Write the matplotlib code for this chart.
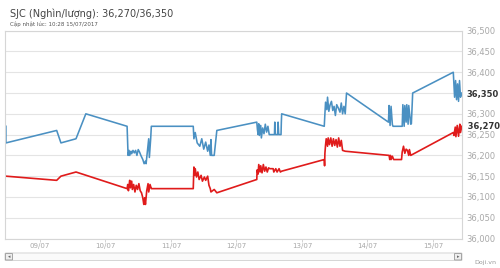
import matplotlib
matplotlib.use('Agg')
import matplotlib.pyplot as plt
import matplotlib.patches as mpatches

# x = days after 09/07 00:00
days_labels = ['09/07', '10/07', '11/07', '12/07', '13/07', '14/07', '15/07']
day_ticks = [0, 1, 2, 3, 4, 5, 6]

sell_x = [-0.52, -0.52, 0.255, 0.32, 0.55, 0.70, 1.33, 1.345,
          1.36, 1.37, 1.39, 1.40, 1.42, 1.44, 1.46, 1.48, 1.50, 1.52, 1.54, 1.57,
          1.59, 1.61, 1.62, 1.64, 1.66, 1.67, 1.69, 1.70,
          2.34, 2.35, 2.37, 2.40, 2.44, 2.47, 2.50, 2.53, 2.56, 2.58, 2.60, 2.61,
          2.62, 2.66, 2.70, 3.31,
          3.32, 3.33, 3.34, 3.35, 3.37, 3.38, 3.40, 3.42, 3.44, 3.46, 3.48, 3.50,
          3.58, 3.585, 3.595, 3.63, 3.635, 3.645, 3.68, 3.685, 3.69,
          4.34, 4.35, 4.36, 4.38, 4.39, 4.41, 4.43, 4.45, 4.47, 4.49, 4.51, 4.53,
          4.56, 4.58, 4.60, 4.62, 4.64, 4.66, 4.68,
          5.32, 5.33, 5.345, 5.36, 5.38, 5.39, 5.53, 5.54, 5.56, 5.57, 5.59, 5.60,
          5.62, 5.63, 5.66, 5.67, 5.69,
          6.31, 6.33, 6.345, 6.36, 6.375, 6.39, 6.405, 6.42, 6.44]
sell_y = [36270, 36230, 36260, 36230, 36240, 36300, 36270, 36200,
          36212, 36200, 36210, 36204, 36212, 36206, 36212, 36200, 36214, 36208, 36200, 36190,
          36180, 36186, 36180, 36210, 36240, 36195, 36240, 36270,
          36270, 36240, 36255, 36230, 36222, 36240, 36215, 36232, 36210, 36225, 36200, 36238,
          36200, 36200, 36260, 36280,
          36262, 36250, 36276, 36248, 36272, 36242, 36266, 36252, 36275, 36256, 36270, 36250,
          36250, 36280, 36250, 36250, 36280, 36250, 36250, 36280, 36300,
          36270, 36300, 36328, 36310, 36340, 36306, 36322, 36330, 36308, 36318, 36296, 36322,
          36312, 36304, 36326, 36300, 36318, 36300, 36350,
          36280, 36320, 36272, 36318, 36274, 36270, 36270, 36322, 36270, 36320, 36280, 36322,
          36275, 36320, 36275, 36276, 36350,
          36400, 36340, 36380, 36334, 36372, 36330, 36380, 36340, 36350]

buy_x = [-0.52, 0.255, 0.32, 0.55, 1.33,
         1.34, 1.35, 1.37, 1.38, 1.40, 1.41, 1.43, 1.45, 1.47, 1.49, 1.51, 1.53, 1.55,
         1.57, 1.585, 1.60, 1.61, 1.63, 1.65, 1.66, 1.68, 1.70, 1.71,
         2.34, 2.35, 2.36, 2.37, 2.39, 2.41, 2.43, 2.46, 2.48, 2.51, 2.53, 2.56, 2.58,
         2.60, 2.61, 2.66, 2.70,
         3.31, 3.315, 3.33, 3.34, 3.36, 3.37, 3.39, 3.41, 3.43, 3.45, 3.47, 3.49, 3.51,
         3.56, 3.57, 3.60, 3.62, 3.65, 3.67, 3.69,
         4.34, 4.345, 4.35, 4.36, 4.37, 4.39, 4.40, 4.42, 4.44, 4.46, 4.48, 4.50, 4.52,
         4.54, 4.56, 4.58, 4.60, 4.62, 4.66,
         5.33, 5.34, 5.35, 5.36, 5.38, 5.40, 5.52, 5.53, 5.55, 5.57, 5.59, 5.61, 5.63,
         5.64, 5.66,
         6.31, 6.32, 6.34, 6.35, 6.37, 6.39, 6.41, 6.42, 6.44]
buy_y = [36150, 36140, 36150, 36160, 36120,
         36130, 36115, 36140, 36122, 36138, 36118, 36130, 36112, 36128, 36118, 36132, 36115, 36110,
         36098, 36082, 36098, 36082, 36115, 36132, 36112, 36130, 36120, 36120,
         36120, 36172, 36152, 36168, 36148, 36160, 36142, 36152, 36138, 36148, 36140, 36150, 36128,
         36120, 36112, 36118, 36110,
         36142, 36165, 36155, 36178, 36160, 36175, 36158, 36178, 36162, 36172, 36160, 36170, 36168,
         36168, 36160, 36168, 36160, 36168, 36160, 36162,
         36190, 36175, 36205, 36225, 36240, 36222, 36242, 36226, 36242, 36222, 36240, 36224, 36238,
         36220, 36242, 36222, 36236, 36212, 36210,
         36200, 36190, 36200, 36190, 36198, 36190, 36190, 36208, 36222, 36205, 36215, 36212, 36200,
         36214, 36200,
         36255, 36248, 36268, 36245, 36272, 36246, 36275, 36255, 36270]

y_ticks = [36000, 36050, 36100, 36150, 36200, 36250, 36300, 36350, 36400, 36450, 36500]
sell_now = 36350
buy_now = 36270

C_BLUE = "#4a90c2"
C_RED = "#e01b1b"
C_GRID = "#e4e4e4"
C_TICK = "#a8a8a8"

fig = plt.figure(figsize=(5.0, 2.68), dpi=100)
ax = fig.add_axes([0.01, 0.110, 0.914, 0.7755])

ax.plot(sell_x, sell_y, color=C_BLUE, linewidth=1.15)
ax.plot(buy_x, buy_y, color=C_RED, linewidth=1.2)

ax.set_xlim(-0.534, 6.443)
ax.set_ylim(36000, 36500)
ax.set_yticks(y_ticks)
ax.set_yticklabels([f'{v:,}' for v in y_ticks])
ax.yaxis.tick_right()
ax.tick_params(axis='y', length=0, pad=3, labelsize=6, labelcolor=C_TICK)
ax.set_xticks(day_ticks)
ax.set_xticklabels(days_labels)
ax.tick_params(axis='x', length=2, width=0.6, color='#cccccc', pad=1.5,
               labelsize=5, labelcolor=C_TICK)
ax.grid(axis='y', color=C_GRID, linewidth=0.8)
ax.set_axisbelow(True)
for s in ax.spines.values():
    s.set_color('#d6d6d6')
    s.set_linewidth(0.8)

# current value markers on the right axis
for lbl, v in zip(ax.get_yticklabels(), y_ticks):
    if v == sell_now:
        lbl.set_color('#333333')
        lbl.set_fontweight('bold')
ax.text(1.0, buy_now, f'  {buy_now:,}', transform=ax.get_yaxis_transform(),
        ha='left', va='center', fontsize=6, color='#333333', fontweight='bold')

# title
fig.text(0.02, 0.948, f'SJC (Nghìn/lượng): {buy_now:,}/{sell_now:,}',
         fontsize=7, color='#444444', va='center', ha='left')
fig.text(0.02, 0.91, 'Cập nhật lúc: 10:28 15/07/2017',
         fontsize=4, color='#555555', va='center', ha='left')

# scrollbar
fig.patches.append(mpatches.FancyBboxPatch(
    (0.012, 0.030), 0.91, 0.024, boxstyle="round,pad=0.002",
    transform=fig.transFigure, facecolor='#fafafa', edgecolor='#cfcfcf', linewidth=0.6))
for bx in [0.012, 0.910]:
    fig.patches.append(mpatches.FancyBboxPatch(
        (bx, 0.031), 0.012, 0.022, boxstyle="round,pad=0.001",
        transform=fig.transFigure, facecolor='#eeeeee', edgecolor='#999999', linewidth=0.6))
fig.text(0.018, 0.042, '◂', fontsize=3.5, color='#666666', ha='center', va='center')
fig.text(0.916, 0.042, '▸', fontsize=3.5, color='#666666', ha='center', va='center')

fig.text(0.97, 0.019, 'Doji.vn', fontsize=4.5, color='#999999', ha='center', va='center')

plt.savefig('out.png', dpi=100)
plt.close()
